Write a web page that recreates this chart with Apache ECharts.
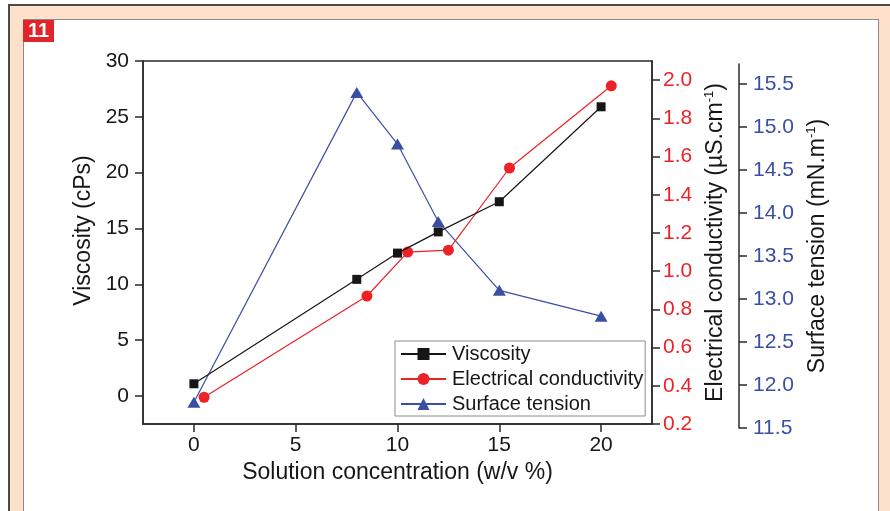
<!DOCTYPE html>
<html>
<head>
<meta charset="utf-8">
<title>Viscosity, conductivity and surface tension</title>
<script src="https://cdn.jsdelivr.net/npm/echarts@6/dist/echarts.min.js"></script>
<style>
  html, body { margin: 0; padding: 0; background: #fff; }
  #frame { position: absolute; left: 8px; top: 4px; width: 882px; height: 507px;
           background: #fde1cb; border-left: 2px solid #4a4a4a; border-top: 2px solid #4a4a4a;
           box-sizing: border-box; }
  #panel { position: absolute; left: 23px; top: 19px; width: 856px; height: 500px;
           background: #fff; border: 1.5px solid #8a8a8a; box-sizing: border-box; }
  #chart { position: absolute; left: 0; top: 0; width: 890px; height: 511px; }
</style>
</head>
<body>
<div id="frame"></div>
<div id="panel"></div>
<div id="chart"></div>
<script>
// Solution concentration (w/v %) for each measured sample
var concentration = [0, 8, 10, 12, 15, 20];
// Conductivity points are plotted slightly offset along x
var conductivityX = [0.5, 8.5, 10.5, 12.5, 15.5, 20.5];

var viscosity = [1.1, 10.45, 12.8, 14.7, 17.4, 25.9];          // cPs
var conductivity = [0.34, 0.87, 1.10, 1.11, 1.54, 1.97];         // µS.cm-1
var surfaceTension = [11.80, 15.40, 14.80, 13.90, 13.10, 12.80]; // mN.m-1

var xTicks = [0, 5, 10, 15, 20];
var viscosityTicks = [0, 5, 10, 15, 20, 25, 30];
var conductivityTicks = [0.2, 0.4, 0.6, 0.8, 1.0, 1.2, 1.4, 1.6, 1.8, 2.0];
var tensionTicks = [11.5, 12.0, 12.5, 13.0, 13.5, 14.0, 14.5, 15.0, 15.5];

var FONT = '"Liberation Sans", Arial, sans-serif';
var BLACK = '#161616';
var RED = '#ec2227';
var BLUE = '#3a4fa3';

function pairs(xs, ys) {
  return xs.map(function (x, i) { return [x, ys[i]]; });
}

function axisLine() {
  return { show: true, onZero: false, lineStyle: { color: '#2a2a2a', width: 1.5 } };
}
function ticks(vals) {
  return { show: true, customValues: vals, length: 8, lineStyle: { color: '#2a2a2a', width: 1.5 } };
}

var chart = echarts.init(document.getElementById('chart'), null, { renderer: 'canvas' });

chart.setOption({
  animation: false,
  backgroundColor: 'transparent',
  textStyle: { fontFamily: FONT },
  graphic: [{
    type: 'group', left: 23, top: 20,
    children: [
      { type: 'rect', shape: { x: 0, y: 0, width: 31, height: 22 }, style: { fill: '#e3232a' } },
      { type: 'text', x: 15.5, y: 11.5,
        style: { text: '11', fill: '#fff', font: 'bold 20px ' + FONT, align: 'center', verticalAlign: 'middle' } }
    ]
  }],
  grid: [
    { left: 143, top: 61, width: 509, height: 363, show: true, borderColor: '#2a2a2a', borderWidth: 1.5,
      backgroundColor: 'transparent' },
    { left: 143, top: 64, width: 509, height: 364, show: false }
  ],
  legend: {
    orient: 'vertical', left: 395, top: 341,
    backgroundColor: '#fff', borderColor: '#8c8c8c', borderWidth: 1,
    padding: [3, 2, 2, 5], itemGap: 5, itemWidth: 45, itemHeight: 15,
    textStyle: { fontSize: 20, color: BLACK, fontFamily: FONT, padding: [0, 0, 0, 1] },
    data: ['Viscosity', 'Electrical conductivity', 'Surface tension']
  },
  xAxis: [
    { type: 'value', gridIndex: 0, min: -2.5, max: 22.5,
      axisLine: axisLine(), axisTick: ticks(xTicks),
      axisLabel: { customValues: xTicks, fontSize: 21, color: BLACK, margin: 11 },
      splitLine: { show: false },
      name: 'Solution concentration (w/v %)', nameLocation: 'middle', nameGap: 32,
      nameTextStyle: { fontSize: 23, color: BLACK } },
    { type: 'value', gridIndex: 1, min: -2.5, max: 22.5, show: false, splitLine: { show: false } }
  ],
  yAxis: [
    { type: 'value', gridIndex: 0, position: 'left', min: -2.5, max: 30,
      axisLine: axisLine(), axisTick: ticks(viscosityTicks),
      axisLabel: { customValues: viscosityTicks, fontSize: 21, color: BLACK, margin: 14 },
      splitLine: { show: false },
      name: 'Viscosity (cPs)', nameLocation: 'middle', nameGap: 36, nameRotate: 90,
      nameTextStyle: { fontSize: 23, color: BLACK, padding: [0, 0, 0, 24] } },
    { type: 'value', gridIndex: 0, position: 'right', min: 0.2, max: 2.1,
      axisLine: axisLine(), axisTick: ticks(conductivityTicks),
      axisLabel: { customValues: conductivityTicks, fontSize: 21, color: RED, margin: 11,
        formatter: function (v) { return v.toFixed(1); } },
      splitLine: { show: false },
      name: '{n|Electrical conductivity (µS.cm}{s|-1}{n|)}', nameLocation: 'middle', nameGap: 50, nameRotate: 90,
      nameTextStyle: { rich: {
        n: { fontSize: 23, color: BLACK, fontFamily: FONT, lineHeight: 26 },
        s: { fontSize: 13, color: BLACK, fontFamily: FONT, verticalAlign: 'top', lineHeight: 13 }
      } } },
    { type: 'value', gridIndex: 1, position: 'right', offset: 87, min: 11.5, max: 15.73,
      axisLine: axisLine(), axisTick: ticks(tensionTicks),
      axisLabel: { customValues: tensionTicks, fontSize: 21, color: BLUE, margin: 14,
        formatter: function (v) { return v.toFixed(1); } },
      splitLine: { show: false },
      name: '{n|Surface tension (mN.m}{s|-1}{n|)}', nameLocation: 'middle', nameGap: 60, nameRotate: 90,
      nameTextStyle: { rich: {
        n: { fontSize: 23, color: BLACK, fontFamily: FONT, lineHeight: 26 },
        s: { fontSize: 13, color: BLACK, fontFamily: FONT, verticalAlign: 'top', lineHeight: 13 }
      } } }
  ],
  series: [
    { name: 'Viscosity', type: 'line', xAxisIndex: 0, yAxisIndex: 0,
      data: pairs(concentration, viscosity),
      symbol: 'rect', symbolSize: 9, showAllSymbol: true,
      itemStyle: { color: BLACK }, lineStyle: { color: BLACK, width: 1.2 }, z: 4 },
    { name: 'Electrical conductivity', type: 'line', xAxisIndex: 0, yAxisIndex: 1,
      data: pairs(conductivityX, conductivity),
      symbol: 'circle', symbolSize: 11, showAllSymbol: true,
      itemStyle: { color: RED }, lineStyle: { color: RED, width: 1.2 }, z: 3 },
    { name: 'Surface tension', type: 'line', xAxisIndex: 1, yAxisIndex: 2,
      data: pairs(concentration, surfaceTension),
      symbol: 'triangle', symbolSize: [13, 11], showAllSymbol: true,
      itemStyle: { color: BLUE }, lineStyle: { color: BLUE, width: 1.2 }, z: 2 }
  ]
});
</script>
</body>
</html>
